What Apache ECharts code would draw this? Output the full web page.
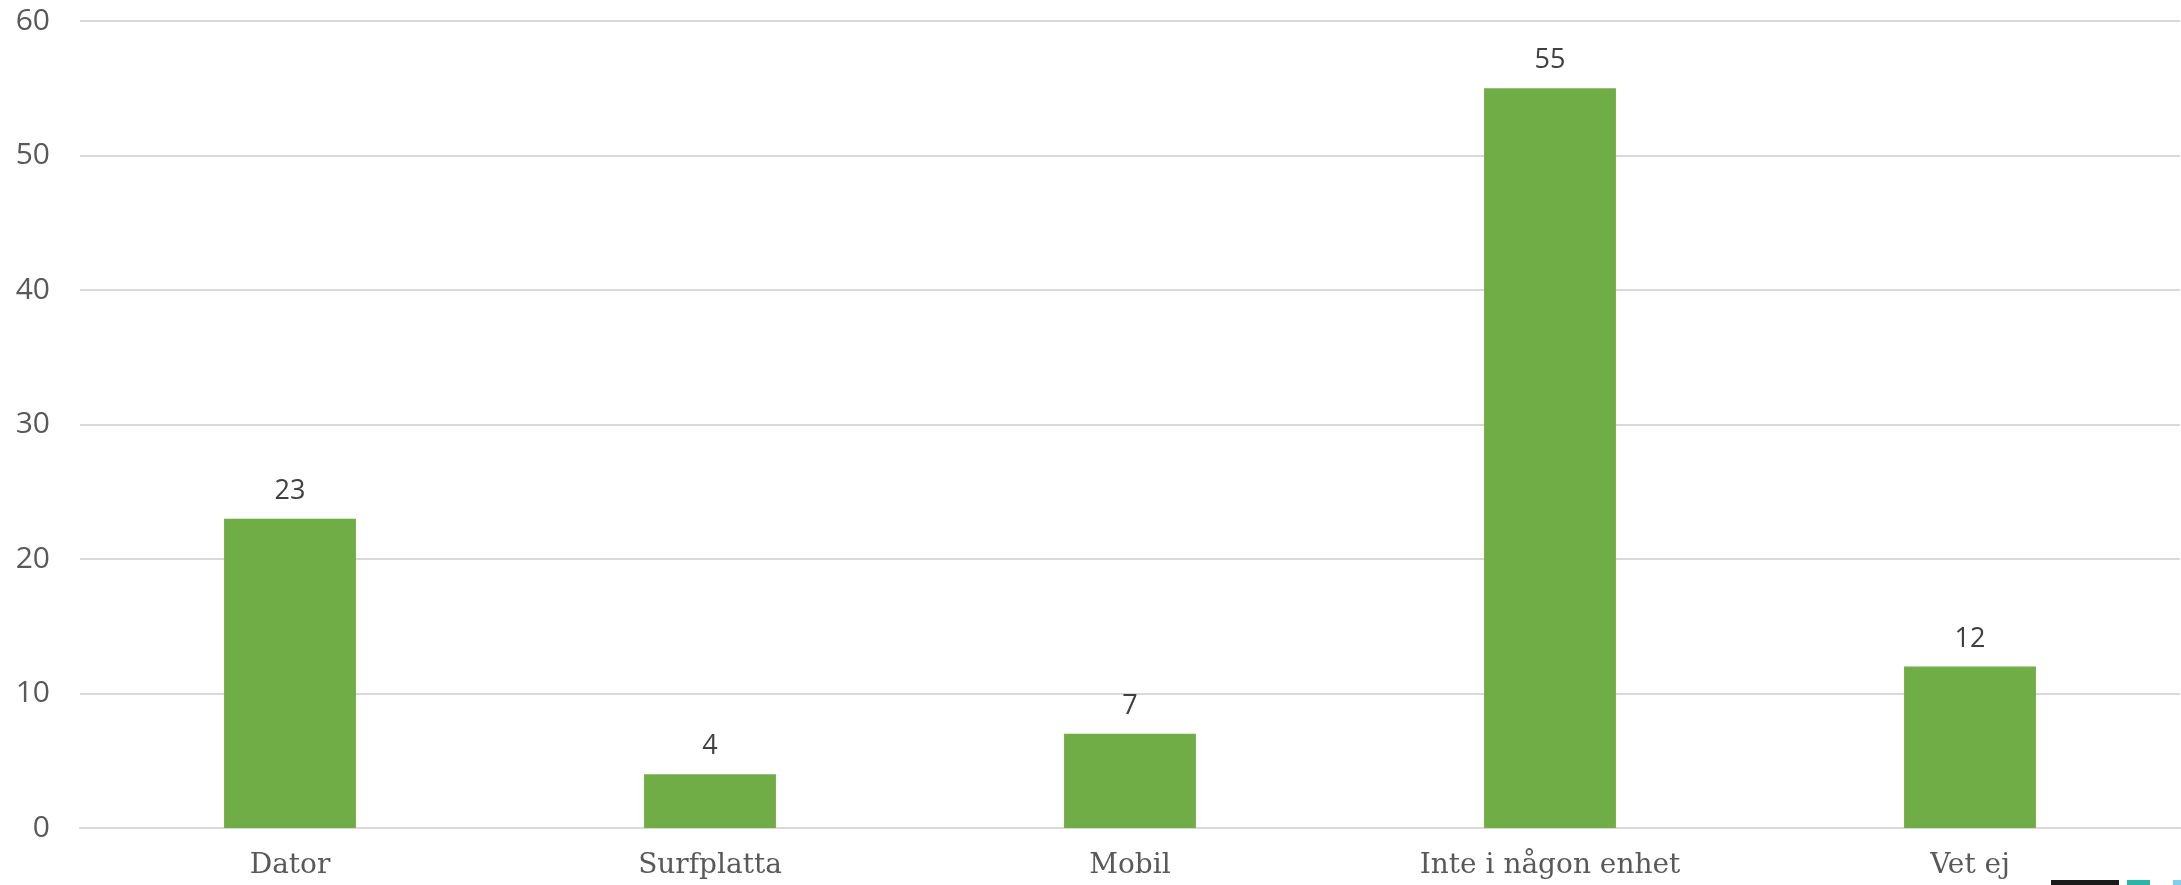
<!DOCTYPE html>
<html>
<head>
<meta charset="utf-8">
<script src="https://cdn.jsdelivr.net/npm/echarts@6/dist/echarts.min.js"></script>
<style>
html,body{margin:0;padding:0;background:#fff;}
#chart{width:2181px;height:885px;}
</style>
</head>
<body>
<div id="chart"></div>
<script>
const categories = ['Dator', 'Surfplatta', 'Mobil', 'Inte i någon enhet', 'Vet ej'];
const values = [23, 4, 7, 55, 12];
const yTicks = [0, 10, 20, 30, 40, 50, 60];

const chart = echarts.init(document.getElementById('chart'));
chart.setOption({
  animation: false,
  backgroundColor: '#ffffff',
  grid: { left: 80, right: 1, top: 21, bottom: 57, containLabel: false },
  xAxis: {
    type: 'category',
    data: categories,
    axisLine: { show: true, lineStyle: { color: '#d9d9d9', width: 2 } },
    axisTick: { show: false },
    axisLabel: {
      color: '#595959',
      fontFamily: 'DejaVu Serif',
      fontSize: 28,
      margin: 24
    }
  },
  yAxis: {
    type: 'value',
    min: yTicks[0],
    max: yTicks[yTicks.length - 1],
    interval: 10,
    axisLine: { show: false },
    axisTick: { show: false },
    splitLine: { lineStyle: { color: '#d9d9d9', width: 2 } },
    axisLabel: {
      color: '#595959',
      fontFamily: 'Open Sans',
      fontSize: 30,
      margin: 30
    }
  },
  series: [{
    type: 'bar',
    data: values,
    barWidth: '31.4%',
    itemStyle: { color: '#70ad47' },
    label: {
      show: true,
      position: 'top',
      distance: 14,
      color: '#404040',
      fontFamily: 'Open Sans',
      fontSize: 27
    }
  }],
  graphic: [
    { type: 'rect', shape: { x: 2051, y: 880, width: 68, height: 5 }, style: { fill: '#1a1a1a' } },
    { type: 'rect', shape: { x: 2127, y: 880, width: 23, height: 5 }, style: { fill: '#2bb5a6' } },
    { type: 'rect', shape: { x: 2173, y: 880, width: 8, height: 5 }, style: { fill: '#7fd0ee' } }
  ]
});
</script>
</body>
</html>
